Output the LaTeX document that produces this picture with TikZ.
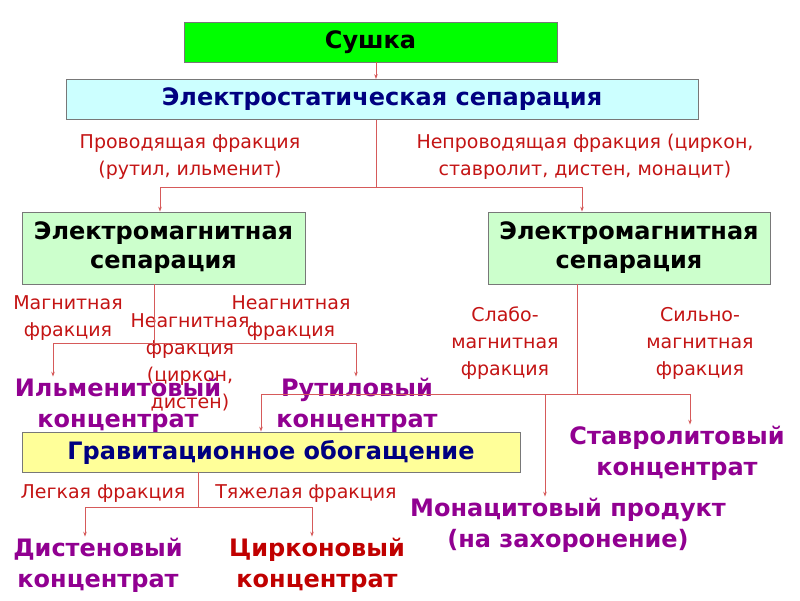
\documentclass[tikz,border=0pt]{standalone}
\usepackage{fontspec}
\setmainfont{DejaVu Sans}
\usetikzlibrary{arrows.meta}
\definecolor{lnred}{RGB}{214,90,90}
\definecolor{lblred}{RGB}{196,20,20}
\definecolor{purp}{RGB}{145,0,145}
\definecolor{navy}{RGB}{0,0,128}
\definecolor{cirkred}{RGB}{192,0,0}
\definecolor{boxgreen}{RGB}{0,255,0}
\definecolor{boxcyan}{RGB}{204,255,255}
\definecolor{boxlgreen}{RGB}{204,255,204}
\definecolor{boxyellow}{RGB}{255,255,153}
\definecolor{boxborder}{RGB}{120,120,120}
\tikzset{
  box/.style={draw=boxborder, line width=0.8pt, inner sep=0pt, font=\fontsize{24}{29}\selectfont\bfseries, align=center},
  lbl/.style={text=lblred, inner sep=1pt, align=center, font=\fontsize{19}{27}\selectfont},
  prod/.style={text=purp, inner sep=1pt, align=center, font=\fontsize{24}{31}\selectfont\bfseries},
  ln/.style={draw=lnred, line width=0.8pt},
  arr/.style={draw=lnred, line width=0.8pt, -{Stealth[length=5pt,width=3.5pt]}}
}
\begin{document}
\begin{tikzpicture}[x=1pt,y=-1pt]
\useasboundingbox[fill=white] (0,0) rectangle (800,600);
% boxes
\node[box, fill=boxgreen, minimum width=373pt, minimum height=40pt, text=black] (sushka) at (370.5,42) {Сушка};
\node[box, fill=boxcyan, minimum width=632pt, minimum height=40pt, text=navy] (elec) at (382,99.5) {Электростатическая сепарация};
\node[box, fill=boxlgreen, minimum width=283pt, minimum height=72pt, text=black] (em1) at (163.5,248) {Электромагнитная\\сепарация};
\node[box, fill=boxlgreen, minimum width=282pt, minimum height=72pt, text=black] (em2) at (629,248) {Электромагнитная\\сепарация};
\node[box, fill=boxyellow, minimum width=498pt, minimum height=40pt, text=navy] (grav) at (271,452) {Гравитационное обогащение};
% labels
\node[lbl] (prov) at (190,157) {Проводящая фракция\\(рутил, ильменит)};
\node[lbl] (neprov) at (585,157) {Непроводящая фракция (циркон,\\ставролит, дистен, монацит)};
\node[lbl] (magn) at (68,318) {Магнитная\\фракция};
\node[lbl] (neagr) at (291,318) {Неагнитная\\фракция};
\node[lbl] (neagm) at (190,362) {Неагнитная\\фракция\\(циркон,\\дистен)};
\node[lbl] (slabo) at (505,343) {Слабо-\\магнитная\\фракция};
\node[lbl] (silno) at (700,343) {Сильно-\\магнитная\\фракция};
\node[lbl] (legk) at (103,494) {Легкая фракция};
\node[lbl] (tyazh) at (306,494) {Тяжелая фракция};
% products
\node[prod] (ilm) at (118,405) {Ильменитовый\\концентрат};
\node[prod] (rut) at (357,405) {Рутиловый\\концентрат};
\node[prod] (stav) at (677,453) {Ставролитовый\\концентрат};
\node[prod] (mon) at (568,525) {Монацитовый продукт\\(на захоронение)};
\node[prod] (dist) at (98,565) {Дистеновый\\концентрат};
\node[prod, text=cirkred] (cirk) at (317,565) {Цирконовый\\концентрат};
% junction coordinates
\coordinate (j0) at (376,187);
\coordinate (a1) at (160,187);
\coordinate (a2) at (582,187);
\coordinate (m1) at (154,343);
\coordinate (ilmA) at (53,343);
\coordinate (rutA) at (356,343);
\coordinate (m2) at (577,394);
\coordinate (gA) at (261,394);
\coordinate (monA) at (545,394);
\coordinate (stA) at (690,394);
\coordinate (g1) at (198,507);
\coordinate (dA) at (85,507);
\coordinate (cA) at (312,507);
% connectors
\draw[arr] (sushka.south -| j0) -- (elec.north -| j0);
\draw[ln] (elec.south -| j0) -- (j0);
\draw[ln] (a1) -- (a2);
\draw[arr] (a1) -- (a1 |- em1.north);
\draw[arr] (a2) -- (a2 |- em2.north);
\draw[ln] (em1.south -| m1) -- (m1);
\draw[ln] (ilmA) -- (rutA);
\draw[arr] (ilmA) -- (ilmA |- ilm.north);
\draw[arr] (rutA) -- (rutA |- rut.north);
\draw[ln] (em2.south -| m2) -- (m2);
\draw[ln] (gA) -- (stA);
\draw[arr] (gA) -- (gA |- grav.north);
\draw[arr] (monA) -- (monA |- mon.north);
\draw[arr] (stA) -- (stA |- stav.north);
\draw[ln] (grav.south -| g1) -- (g1);
\draw[ln] (dA) -- (cA);
\draw[arr] (dA) -- (dA |- dist.north);
\draw[arr] (cA) -- (cA |- cirk.north);
\end{tikzpicture}
\end{document}
